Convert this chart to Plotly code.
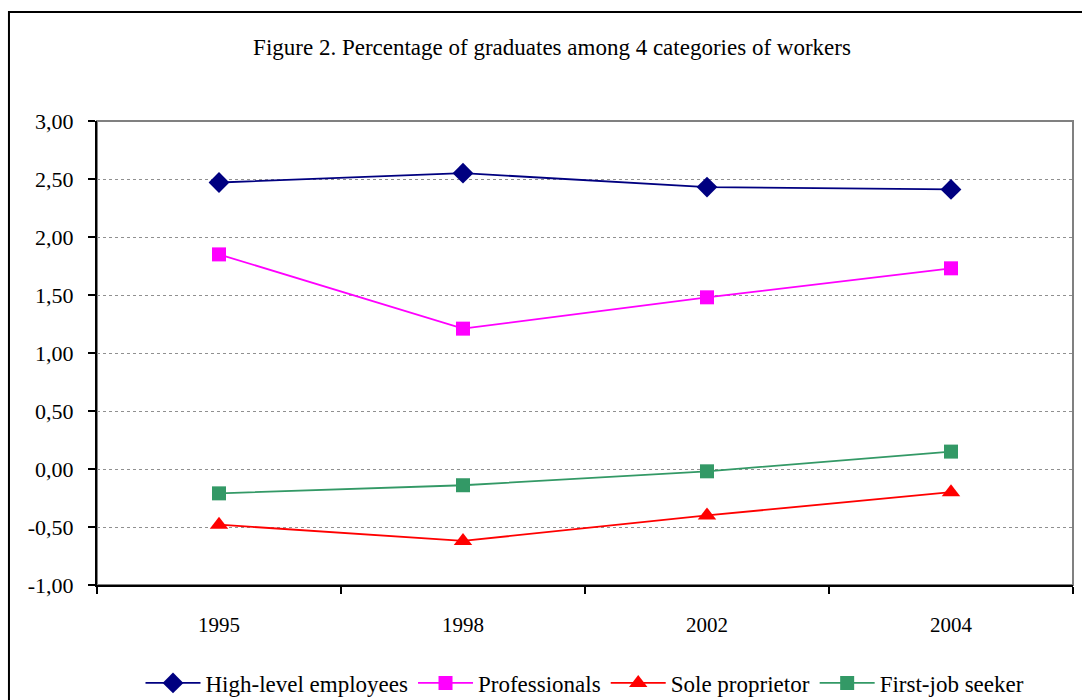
import plotly.graph_objects as go

years = ["1995", "1998", "2002", "2004"]
high_level = [2.47, 2.55, 2.43, 2.41]
professionals = [1.85, 1.21, 1.48, 1.73]
sole_proprietor = [-0.48, -0.62, -0.40, -0.20]
first_job = [-0.21, -0.14, -0.02, 0.15]

y_ticks = [-1.0, -0.5, 0.0, 0.5, 1.0, 1.5, 2.0, 2.5, 3.0]
y_labels = ["-1,00", "-0,50", "0,00", "0,50", "1,00", "1,50", "2,00", "2,50", "3,00"]

font = "Liberation Serif, Times New Roman, serif"

fig = go.Figure()
series = [
    ("High-level employees", high_level, "#000080", "diamond", 16),
    ("Professionals", professionals, "#FF00FF", "square", 14),
    ("Sole proprietor", sole_proprietor, "#FF0000", "triangle-up", 16),
    ("First-job seeker", first_job, "#339966", "square", 14),
]
for name, vals, col, sym, sz in series:
    fig.add_trace(go.Scatter(
        x=years, y=vals, name=name, mode="lines+markers",
        line=dict(color=col, width=1.8),
        marker=dict(symbol=sym, size=sz, color=col),
    ))

# outer chart border and plot-area frame
fig.add_shape(type="rect", xref="paper", yref="paper",
              x0=-0.0902, x1=1.02, y0=-0.27, y1=1.2349,
              line=dict(color="black", width=2), layer="below")
fig.add_shape(type="rect", xref="paper", yref="paper",
              x0=0, x1=1, y0=0, y1=1,
              line=dict(color="#808080", width=2), layer="below")

fig.update_layout(
    width=1082, height=700,
    margin=dict(l=97, r=9, t=121, b=115, autoexpand=False),
    paper_bgcolor="white", plot_bgcolor="white",
    separators=", ",
    font=dict(family=font, size=21, color="black"),
    title=dict(text="Figure 2. Percentage of graduates among 4 categories of workers",
               x=552 / 1082, xref="container", xanchor="center",
               y=1 - 47 / 700, yref="container", yanchor="middle",
               font=dict(family=font, size=23)),
    showlegend=True,
    legend=dict(orientation="h", x=585 / 1082, xref="container", xanchor="center",
                y=1 - 683 / 700, yref="container", yanchor="middle",
                font=dict(family=font, size=23), itemwidth=55, tracegroupgap=0,
                bgcolor="rgba(0,0,0,0)"),
    xaxis=dict(type="category", range=[-0.5, 3.5], tickson="boundaries",
               ticks="outside", ticklen=7, tickwidth=2, tickcolor="black",
               showline=True, linecolor="black", linewidth=2, automargin=False,
               showgrid=False, ticklabelstandoff=20, zeroline=False),
    yaxis=dict(range=[-1, 3], tickvals=y_ticks, ticktext=y_labels,
               ticks="outside", ticklen=7, tickwidth=2, tickcolor="black",
               showline=True, linecolor="black", linewidth=2, automargin=False,
               showgrid=True, gridcolor="#909090", gridwidth=1, griddash="dot",
               zeroline=False, ticklabelstandoff=10, tickfont=dict(size=22)),
)

fig.write_html("out.html", config={"displayModeBar": False},
               post_script="document.body.style.margin='0';")
